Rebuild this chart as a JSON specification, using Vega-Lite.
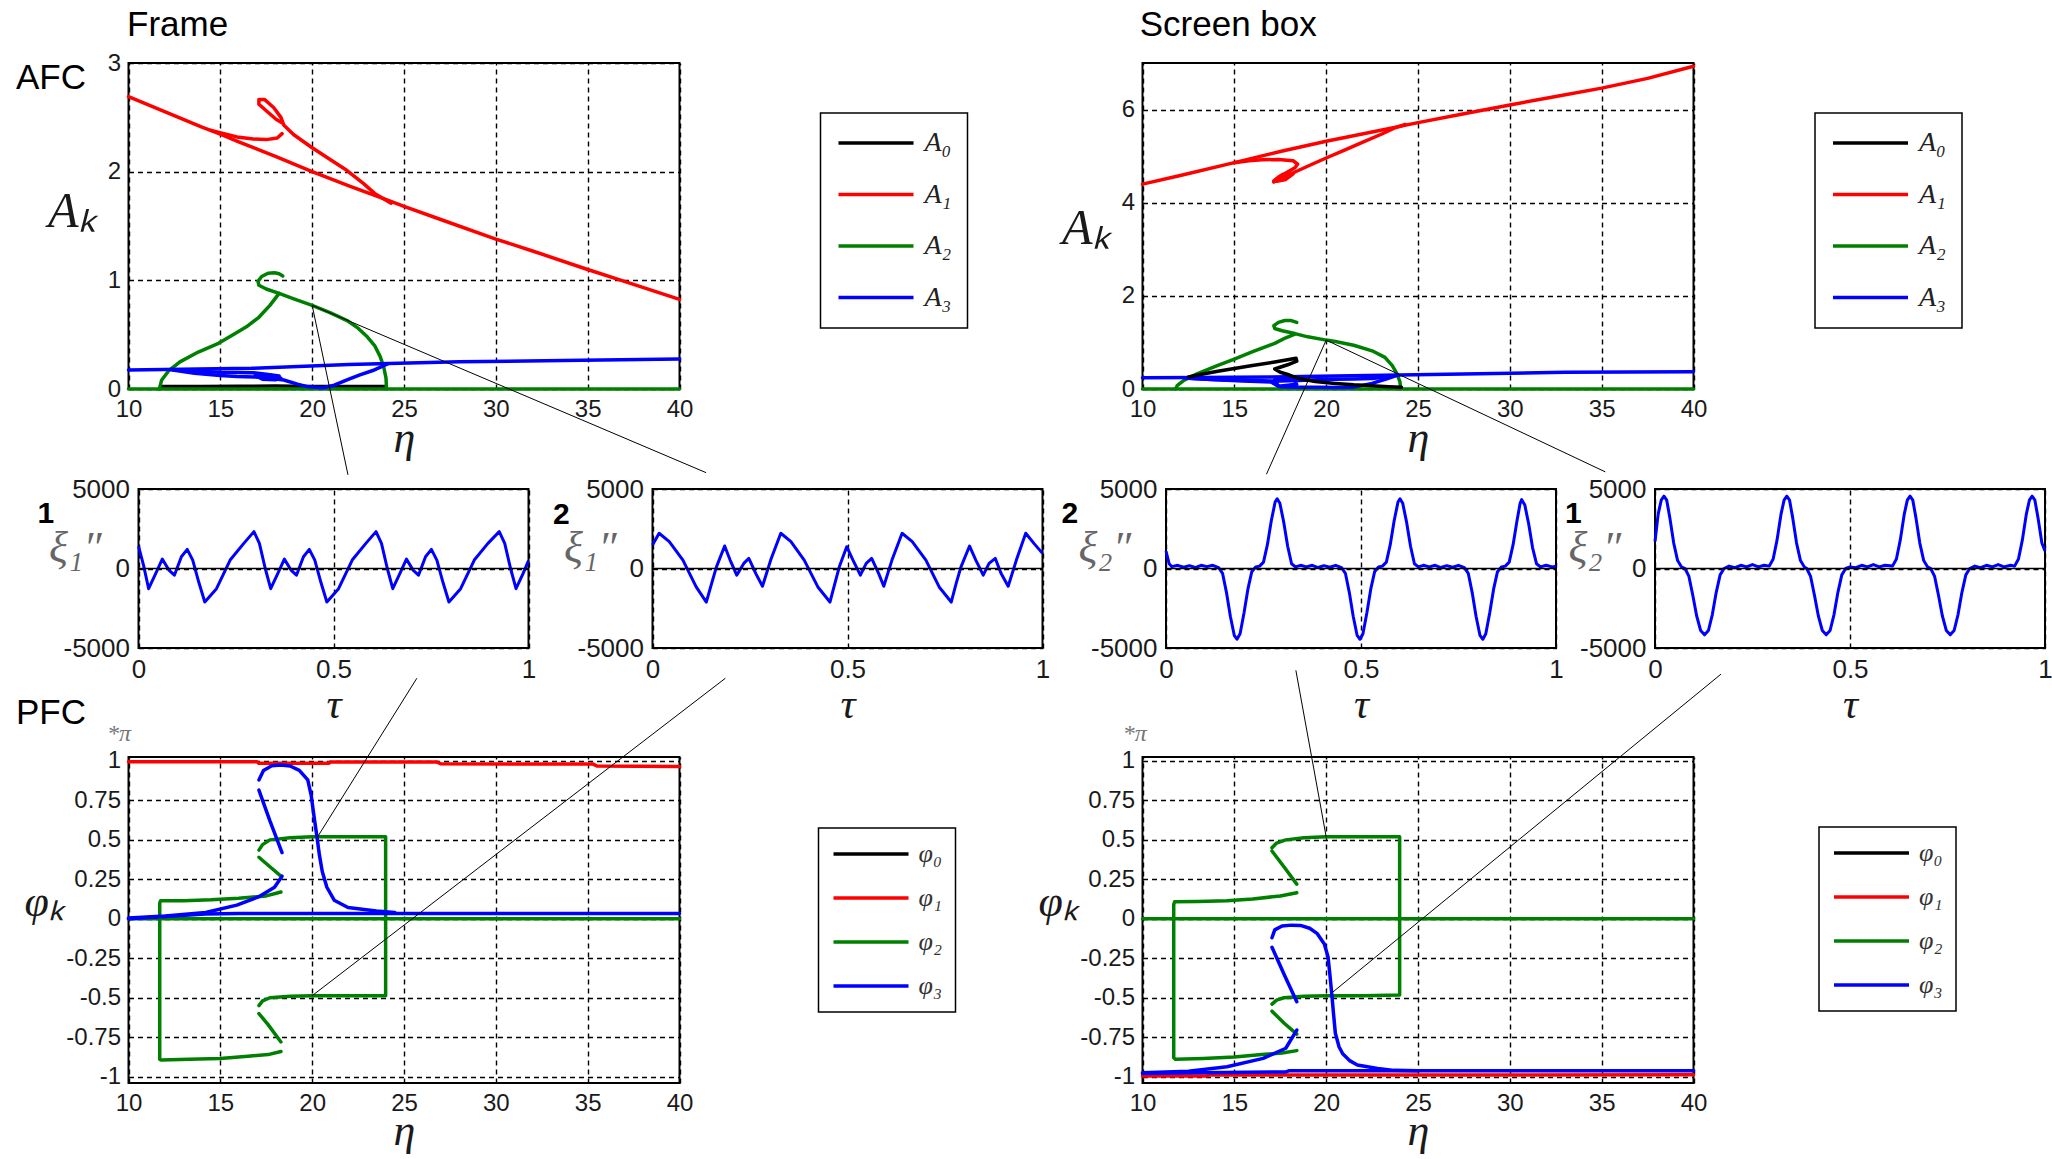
{
  "$schema": "https://vega.github.io/schema/vega-lite/v6.json",
  "width": 2052,
  "height": 1159,
  "autosize": {"type": "none"},
  "padding": 0,
  "background": "white",
  "config": {
    "font": "Liberation Sans",
    "view": {"stroke": null},
    "axis": {
      "grid": true, "gridColor": "black", "gridDash": [5, 4], "gridWidth": 1.4, "gridOpacity": 1,
      "domain": false, "ticks": false,
      "labelFont": "Liberation Sans", "labelFontSize": 24, "labelColor": "#1a1a1a", "labelPadding": 8,
      "labelFlush": false, "labelOverlap": false,
      "titleFont": "Liberation Serif", "titleFontStyle": "italic", "titleFontWeight": "normal",
      "titleColor": "#1a1a1a", "titleAngle": 0, "titleBaseline": "alphabetic"
    },
    "legend": {"strokeWidth": 1.5}
  },
  "resolve": {
    "scale": {"x": "independent", "y": "independent", "color": "independent"},
    "axis": {"x": "independent", "y": "independent"},
    "legend": {"color": "independent"}
  },
  "datasets": {
    "afcFrame": [
      {"s":"A₀","g":"k1","x":11.8,"y":0.022},{"s":"A₀","g":"k1","x":14,"y":0.022},{"s":"A₀","g":"k1","x":16,"y":0.025},{"s":"A₀","g":"k1","x":18,"y":0.027},{"s":"A₀","g":"k1","x":20,"y":0.022},{"s":"A₀","g":"k1","x":22,"y":0.022},{"s":"A₀","g":"k1","x":24,"y":0.022},
      {"s":"A₁","g":"r1","x":10,"y":2.69},{"s":"A₁","g":"r1","x":12,"y":2.55},{"s":"A₁","g":"r1","x":14,"y":2.41},{"s":"A₁","g":"r1","x":15,"y":2.345},{"s":"A₁","g":"r1","x":16,"y":2.275},{"s":"A₁","g":"r1","x":18,"y":2.14},{"s":"A₁","g":"r1","x":20,"y":2.0},{"s":"A₁","g":"r1","x":22,"y":1.87},{"s":"A₁","g":"r1","x":24,"y":1.745},{"s":"A₁","g":"r1","x":25,"y":1.68},{"s":"A₁","g":"r1","x":27,"y":1.56},{"s":"A₁","g":"r1","x":30,"y":1.38},{"s":"A₁","g":"r1","x":32,"y":1.27},{"s":"A₁","g":"r1","x":35,"y":1.1},{"s":"A₁","g":"r1","x":37,"y":0.99},{"s":"A₁","g":"r1","x":40,"y":0.825},
      {"s":"A₁","g":"r2","x":14.5,"y":2.38},{"s":"A₁","g":"r2","x":15.9,"y":2.32},{"s":"A₁","g":"r2","x":16.8,"y":2.3},{"s":"A₁","g":"r2","x":17.5,"y":2.295},{"s":"A₁","g":"r2","x":18.1,"y":2.31},{"s":"A₁","g":"r2","x":18.36,"y":2.35},
      {"s":"A₁","g":"r3","x":24.3,"y":1.71},{"s":"A₁","g":"r3","x":23.7,"y":1.77},{"s":"A₁","g":"r3","x":23.4,"y":1.8},{"s":"A₁","g":"r3","x":22.8,"y":1.89},{"s":"A₁","g":"r3","x":21.9,"y":2.01},{"s":"A₁","g":"r3","x":21,"y":2.11},{"s":"A₁","g":"r3","x":20,"y":2.22},{"s":"A₁","g":"r3","x":19,"y":2.34},{"s":"A₁","g":"r3","x":18.45,"y":2.43},{"s":"A₁","g":"r3","x":18.3,"y":2.5},{"s":"A₁","g":"r3","x":17.9,"y":2.59},{"s":"A₁","g":"r3","x":17.4,"y":2.665},{"s":"A₁","g":"r3","x":17.1,"y":2.665},{"s":"A₁","g":"r3","x":17.1,"y":2.62},{"s":"A₁","g":"r3","x":17.5,"y":2.56},{"s":"A₁","g":"r3","x":18.05,"y":2.48},{"s":"A₁","g":"r3","x":18.4,"y":2.445},
      {"s":"A₂","g":"g1","x":10,"y":0},{"s":"A₂","g":"g1","x":40,"y":0},
      {"s":"A₂","g":"g2","x":11.68,"y":0},{"s":"A₂","g":"g2","x":11.8,"y":0.08},{"s":"A₂","g":"g2","x":12.2,"y":0.17},{"s":"A₂","g":"g2","x":12.8,"y":0.25},{"s":"A₂","g":"g2","x":13.8,"y":0.34},{"s":"A₂","g":"g2","x":14.9,"y":0.42},{"s":"A₂","g":"g2","x":15.6,"y":0.49},{"s":"A₂","g":"g2","x":16.4,"y":0.57},{"s":"A₂","g":"g2","x":17.1,"y":0.66},{"s":"A₂","g":"g2","x":17.7,"y":0.77},{"s":"A₂","g":"g2","x":18.2,"y":0.88},
      {"s":"A₂","g":"g3","x":24.05,"y":0},{"s":"A₂","g":"g3","x":24.02,"y":0.1},{"s":"A₂","g":"g3","x":23.9,"y":0.2},{"s":"A₂","g":"g3","x":23.7,"y":0.3},{"s":"A₂","g":"g3","x":23.4,"y":0.4},{"s":"A₂","g":"g3","x":23,"y":0.48},{"s":"A₂","g":"g3","x":22.5,"y":0.56},{"s":"A₂","g":"g3","x":21.9,"y":0.63},{"s":"A₂","g":"g3","x":21,"y":0.7},{"s":"A₂","g":"g3","x":20,"y":0.77},{"s":"A₂","g":"g3","x":19,"y":0.83},{"s":"A₂","g":"g3","x":18.2,"y":0.88},{"s":"A₂","g":"g3","x":17.5,"y":0.92},{"s":"A₂","g":"g3","x":17.1,"y":0.955},{"s":"A₂","g":"g3","x":17.05,"y":0.99},{"s":"A₂","g":"g3","x":17.25,"y":1.035},{"s":"A₂","g":"g3","x":17.6,"y":1.065},{"s":"A₂","g":"g3","x":17.95,"y":1.07},{"s":"A₂","g":"g3","x":18.2,"y":1.06},{"s":"A₂","g":"g3","x":18.4,"y":1.04},
      {"s":"A₃","g":"b1","x":10,"y":0.175},{"s":"A₃","g":"b1","x":16.7,"y":0.19},{"s":"A₃","g":"b1","x":22,"y":0.225},{"s":"A₃","g":"b1","x":28,"y":0.25},{"s":"A₃","g":"b1","x":34.7,"y":0.265},{"s":"A₃","g":"b1","x":40,"y":0.275},
      {"s":"A₃","g":"b2","x":12.3,"y":0.18},{"s":"A₃","g":"b2","x":13.5,"y":0.165},{"s":"A₃","g":"b2","x":15,"y":0.155},{"s":"A₃","g":"b2","x":16.8,"y":0.15},{"s":"A₃","g":"b2","x":17.5,"y":0.135},{"s":"A₃","g":"b2","x":18.2,"y":0.12},
      {"s":"A₃","g":"b3","x":12.4,"y":0.175},{"s":"A₃","g":"b3","x":13.6,"y":0.145},{"s":"A₃","g":"b3","x":15,"y":0.125},{"s":"A₃","g":"b3","x":15.9,"y":0.115},{"s":"A₃","g":"b3","x":16.9,"y":0.11},{"s":"A₃","g":"b3","x":17.6,"y":0.1},{"s":"A₃","g":"b3","x":18.45,"y":0.083},{"s":"A₃","g":"b3","x":19.2,"y":0.045},{"s":"A₃","g":"b3","x":19.8,"y":0.02},{"s":"A₃","g":"b3","x":20.6,"y":0.012},{"s":"A₃","g":"b3","x":21.2,"y":0.035},{"s":"A₃","g":"b3","x":22,"y":0.09},{"s":"A₃","g":"b3","x":22.6,"y":0.13},{"s":"A₃","g":"b3","x":23.3,"y":0.17},{"s":"A₃","g":"b3","x":23.9,"y":0.215},{"s":"A₃","g":"b3","x":24.1,"y":0.23},
      {"s":"A₃","g":"b4","x":16.9,"y":0.125},{"s":"A₃","g":"b4","x":17.3,"y":0.09},{"s":"A₃","g":"b4","x":18,"y":0.085},{"s":"A₃","g":"b4","x":18.3,"y":0.1},{"s":"A₃","g":"b4","x":17.8,"y":0.125},{"s":"A₃","g":"b4","x":17.1,"y":0.13}
    ],
    "afcScreen": [
      {"s":"A₁","g":"r1","x":10,"y":4.4},{"s":"A₁","g":"r1","x":12,"y":4.58},{"s":"A₁","g":"r1","x":15,"y":4.86},{"s":"A₁","g":"r1","x":17.5,"y":5.1},{"s":"A₁","g":"r1","x":20,"y":5.32},{"s":"A₁","g":"r1","x":22.5,"y":5.52},{"s":"A₁","g":"r1","x":25,"y":5.72},{"s":"A₁","g":"r1","x":27.5,"y":5.91},{"s":"A₁","g":"r1","x":30,"y":6.1},{"s":"A₁","g":"r1","x":32.5,"y":6.28},{"s":"A₁","g":"r1","x":35,"y":6.46},{"s":"A₁","g":"r1","x":37.5,"y":6.67},{"s":"A₁","g":"r1","x":40,"y":6.93},
      {"s":"A₁","g":"r2","x":15,"y":4.86},{"s":"A₁","g":"r2","x":15.8,"y":4.9},{"s":"A₁","g":"r2","x":16.5,"y":4.92},{"s":"A₁","g":"r2","x":17.4,"y":4.93},{"s":"A₁","g":"r2","x":18.2,"y":4.9},{"s":"A₁","g":"r2","x":18.45,"y":4.83},{"s":"A₁","g":"r2","x":18.3,"y":4.75},{"s":"A₁","g":"r2","x":17.9,"y":4.66},{"s":"A₁","g":"r2","x":17.4,"y":4.55},{"s":"A₁","g":"r2","x":17.15,"y":4.47},
      {"s":"A₁","g":"r3","x":17.15,"y":4.45},{"s":"A₁","g":"r3","x":17.6,"y":4.52},{"s":"A₁","g":"r3","x":18.3,"y":4.66},{"s":"A₁","g":"r3","x":19.2,"y":4.82},{"s":"A₁","g":"r3","x":20,"y":4.96},{"s":"A₁","g":"r3","x":21,"y":5.13},{"s":"A₁","g":"r3","x":22,"y":5.3},{"s":"A₁","g":"r3","x":23,"y":5.47},{"s":"A₁","g":"r3","x":23.7,"y":5.6},{"s":"A₁","g":"r3","x":24.3,"y":5.68},
      {"s":"A₁","g":"r4","x":17.15,"y":4.45},{"s":"A₁","g":"r4","x":17.6,"y":4.6},{"s":"A₁","g":"r4","x":18.2,"y":4.62},{"s":"A₁","g":"r4","x":17.8,"y":4.5},{"s":"A₁","g":"r4","x":17.3,"y":4.46},
      {"s":"A₂","g":"g1","x":10,"y":0},{"s":"A₂","g":"g1","x":40,"y":0},
      {"s":"A₂","g":"g2","x":11.8,"y":0},{"s":"A₂","g":"g2","x":11.9,"y":0.08},{"s":"A₂","g":"g2","x":12.27,"y":0.19},{"s":"A₂","g":"g2","x":13,"y":0.33},{"s":"A₂","g":"g2","x":14,"y":0.49},{"s":"A₂","g":"g2","x":15,"y":0.64},{"s":"A₂","g":"g2","x":16,"y":0.8},{"s":"A₂","g":"g2","x":17.2,"y":0.98},{"s":"A₂","g":"g2","x":17.8,"y":1.1},{"s":"A₂","g":"g2","x":18.3,"y":1.18},
      {"s":"A₂","g":"g3","x":24.05,"y":0},{"s":"A₂","g":"g3","x":24.02,"y":0.15},{"s":"A₂","g":"g3","x":23.85,"y":0.33},{"s":"A₂","g":"g3","x":23.6,"y":0.5},{"s":"A₂","g":"g3","x":23.2,"y":0.68},{"s":"A₂","g":"g3","x":22.5,"y":0.82},{"s":"A₂","g":"g3","x":21.5,"y":0.94},{"s":"A₂","g":"g3","x":20.5,"y":1.02},{"s":"A₂","g":"g3","x":20,"y":1.05},{"s":"A₂","g":"g3","x":19,"y":1.12},{"s":"A₂","g":"g3","x":18.3,"y":1.19},{"s":"A₂","g":"g3","x":17.6,"y":1.25},{"s":"A₂","g":"g3","x":17.2,"y":1.3},{"s":"A₂","g":"g3","x":17.15,"y":1.36},{"s":"A₂","g":"g3","x":17.4,"y":1.43},{"s":"A₂","g":"g3","x":17.75,"y":1.47},{"s":"A₂","g":"g3","x":18.1,"y":1.47},{"s":"A₂","g":"g3","x":18.4,"y":1.43},
      {"s":"A₃","g":"b1","x":10,"y":0.24},{"s":"A₃","g":"b1","x":13,"y":0.245},{"s":"A₃","g":"b1","x":17,"y":0.26},{"s":"A₃","g":"b1","x":24,"y":0.3},{"s":"A₃","g":"b1","x":33,"y":0.36},{"s":"A₃","g":"b1","x":40,"y":0.37},
      {"s":"A₃","g":"b2","x":12.3,"y":0.235},{"s":"A₃","g":"b2","x":13.5,"y":0.21},{"s":"A₃","g":"b2","x":15,"y":0.19},{"s":"A₃","g":"b2","x":16.5,"y":0.175},{"s":"A₃","g":"b2","x":17.5,"y":0.17},{"s":"A₃","g":"b2","x":18.5,"y":0.18},{"s":"A₃","g":"b2","x":19.5,"y":0.2},{"s":"A₃","g":"b2","x":20.5,"y":0.21},{"s":"A₃","g":"b2","x":21.5,"y":0.215},{"s":"A₃","g":"b2","x":22.5,"y":0.225},{"s":"A₃","g":"b2","x":23.5,"y":0.27},{"s":"A₃","g":"b2","x":23.9,"y":0.3},
      {"s":"A₃","g":"b3","x":12.5,"y":0.23},{"s":"A₃","g":"b3","x":14,"y":0.2},{"s":"A₃","g":"b3","x":15.5,"y":0.17},{"s":"A₃","g":"b3","x":17,"y":0.15},{"s":"A₃","g":"b3","x":17.3,"y":0.08},{"s":"A₃","g":"b3","x":17.5,"y":0.05},{"s":"A₃","g":"b3","x":18.3,"y":0.04},{"s":"A₃","g":"b3","x":19.5,"y":0.035},{"s":"A₃","g":"b3","x":20.5,"y":0.03},{"s":"A₃","g":"b3","x":21.5,"y":0.04},{"s":"A₃","g":"b3","x":22.5,"y":0.12},{"s":"A₃","g":"b3","x":23.3,"y":0.22},{"s":"A₃","g":"b3","x":23.9,"y":0.3},
      {"s":"A₃","g":"b4","x":17.2,"y":0.2},{"s":"A₃","g":"b4","x":18.2,"y":0.22},{"s":"A₃","g":"b4","x":18.4,"y":0.1},{"s":"A₃","g":"b4","x":17.4,"y":0.06},{"s":"A₃","g":"b4","x":17.2,"y":0.2},
      {"s":"A₀","g":"k1","x":12.5,"y":0.26},{"s":"A₀","g":"k1","x":13,"y":0.3},{"s":"A₀","g":"k1","x":14.1,"y":0.38},{"s":"A₀","g":"k1","x":15.9,"y":0.5},{"s":"A₀","g":"k1","x":17.2,"y":0.58},{"s":"A₀","g":"k1","x":18.36,"y":0.66},{"s":"A₀","g":"k1","x":18.4,"y":0.6},{"s":"A₀","g":"k1","x":17.9,"y":0.52},{"s":"A₀","g":"k1","x":17.2,"y":0.43},{"s":"A₀","g":"k1","x":17.5,"y":0.36},{"s":"A₀","g":"k1","x":18,"y":0.3},{"s":"A₀","g":"k1","x":18.46,"y":0.23},{"s":"A₀","g":"k1","x":19.4,"y":0.16},{"s":"A₀","g":"k1","x":20.5,"y":0.12},{"s":"A₀","g":"k1","x":21.5,"y":0.09},{"s":"A₀","g":"k1","x":22.5,"y":0.07},{"s":"A₀","g":"k1","x":23.4,"y":0.05},{"s":"A₀","g":"k1","x":24.1,"y":0.04}
    ],
    "pfcFrame": [
      {"s":"φ₁","g":"r1","x":10,"y":0.995},{"s":"φ₁","g":"r1","x":17,"y":0.995},{"s":"φ₁","g":"r1","x":17.1,"y":0.985},{"s":"φ₁","g":"r1","x":20.9,"y":0.985},{"s":"φ₁","g":"r1","x":21,"y":0.993},{"s":"φ₁","g":"r1","x":26.8,"y":0.993},{"s":"φ₁","g":"r1","x":27,"y":0.982},{"s":"φ₁","g":"r1","x":35.3,"y":0.98},{"s":"φ₁","g":"r1","x":35.5,"y":0.968},{"s":"φ₁","g":"r1","x":40,"y":0.965},
      {"s":"φ₂","g":"g1","x":10,"y":0},{"s":"φ₂","g":"g1","x":40,"y":0},
      {"s":"φ₂","g":"g2","x":18.3,"y":0.17},{"s":"φ₂","g":"g2","x":17.5,"y":0.145},{"s":"φ₂","g":"g2","x":16,"y":0.13},{"s":"φ₂","g":"g2","x":14.5,"y":0.12},{"s":"φ₂","g":"g2","x":13,"y":0.115},{"s":"φ₂","g":"g2","x":11.75,"y":0.115},{"s":"φ₂","g":"g2","x":11.7,"y":0.1},{"s":"φ₂","g":"g2","x":11.7,"y":-0.89},{"s":"φ₂","g":"g2","x":11.8,"y":-0.895},{"s":"φ₂","g":"g2","x":13.3,"y":-0.89},{"s":"φ₂","g":"g2","x":15,"y":-0.885},{"s":"φ₂","g":"g2","x":16.5,"y":-0.87},{"s":"φ₂","g":"g2","x":17.6,"y":-0.86},{"s":"φ₂","g":"g2","x":18.3,"y":-0.84},
      {"s":"φ₂","g":"g3","x":18.3,"y":0.27},{"s":"φ₂","g":"g3","x":17.7,"y":0.33},{"s":"φ₂","g":"g3","x":17.1,"y":0.39},
      {"s":"φ₂","g":"g4","x":17.1,"y":0.435},{"s":"φ₂","g":"g4","x":17.3,"y":0.47},{"s":"φ₂","g":"g4","x":17.7,"y":0.5},{"s":"φ₂","g":"g4","x":18.8,"y":0.513},{"s":"φ₂","g":"g4","x":20,"y":0.52},{"s":"φ₂","g":"g4","x":22,"y":0.52},{"s":"φ₂","g":"g4","x":24,"y":0.52},{"s":"φ₂","g":"g4","x":24,"y":-0.487},{"s":"φ₂","g":"g4","x":22,"y":-0.487},{"s":"φ₂","g":"g4","x":20,"y":-0.487},{"s":"φ₂","g":"g4","x":18.8,"y":-0.49},{"s":"φ₂","g":"g4","x":17.7,"y":-0.5},{"s":"φ₂","g":"g4","x":17.3,"y":-0.52},{"s":"φ₂","g":"g4","x":17.1,"y":-0.55},
      {"s":"φ₂","g":"g5","x":17.1,"y":-0.6},{"s":"φ₂","g":"g5","x":17.6,"y":-0.67},{"s":"φ₂","g":"g5","x":18.3,"y":-0.78},
      {"s":"φ₃","g":"b1","x":10,"y":0},{"s":"φ₃","g":"b1","x":12,"y":0.015},{"s":"φ₃","g":"b1","x":14.2,"y":0.03},{"s":"φ₃","g":"b1","x":16,"y":0.034},{"s":"φ₃","g":"b1","x":40,"y":0.034},
      {"s":"φ₃","g":"b2","x":10,"y":0.005},{"s":"φ₃","g":"b2","x":12,"y":0.018},{"s":"φ₃","g":"b2","x":14.2,"y":0.04},{"s":"φ₃","g":"b2","x":15.9,"y":0.087},{"s":"φ₃","g":"b2","x":17.1,"y":0.14},{"s":"φ₃","g":"b2","x":17.95,"y":0.2},{"s":"φ₃","g":"b2","x":18.36,"y":0.27},
      {"s":"φ₃","g":"b3","x":18.36,"y":0.42},{"s":"φ₃","g":"b3","x":17.7,"y":0.62},{"s":"φ₃","g":"b3","x":17.1,"y":0.815},
      {"s":"φ₃","g":"b4","x":17.1,"y":0.88},{"s":"φ₃","g":"b4","x":17.35,"y":0.94},{"s":"φ₃","g":"b4","x":17.8,"y":0.97},{"s":"φ₃","g":"b4","x":18.3,"y":0.975},{"s":"φ₃","g":"b4","x":18.8,"y":0.968},{"s":"φ₃","g":"b4","x":19.3,"y":0.94},{"s":"φ₃","g":"b4","x":19.76,"y":0.88},{"s":"φ₃","g":"b4","x":19.95,"y":0.78},{"s":"φ₃","g":"b4","x":20.1,"y":0.65},{"s":"φ₃","g":"b4","x":20.26,"y":0.52},{"s":"φ₃","g":"b4","x":20.4,"y":0.4},{"s":"φ₃","g":"b4","x":20.55,"y":0.3},{"s":"φ₃","g":"b4","x":20.8,"y":0.2},{"s":"φ₃","g":"b4","x":21.2,"y":0.118},{"s":"φ₃","g":"b4","x":21.95,"y":0.072},{"s":"φ₃","g":"b4","x":23.5,"y":0.05},{"s":"φ₃","g":"b4","x":24.5,"y":0.04}
    ],
    "pfcScreen": [
      {"s":"φ₁","g":"r1","x":10,"y":-0.995},{"s":"φ₁","g":"r1","x":13.5,"y":-0.995},{"s":"φ₁","g":"r1","x":13.6,"y":-0.99},{"s":"φ₁","g":"r1","x":40,"y":-0.988},
      {"s":"φ₂","g":"g1","x":10,"y":0},{"s":"φ₂","g":"g1","x":40,"y":0},
      {"s":"φ₂","g":"g2","x":18.4,"y":0.165},{"s":"φ₂","g":"g2","x":17.5,"y":0.145},{"s":"φ₂","g":"g2","x":16,"y":0.125},{"s":"φ₂","g":"g2","x":14.6,"y":0.114},{"s":"φ₂","g":"g2","x":13,"y":0.11},{"s":"φ₂","g":"g2","x":11.75,"y":0.108},{"s":"φ₂","g":"g2","x":11.7,"y":0.09},{"s":"φ₂","g":"g2","x":11.7,"y":-0.88},{"s":"φ₂","g":"g2","x":11.8,"y":-0.89},{"s":"φ₂","g":"g2","x":13.3,"y":-0.885},{"s":"φ₂","g":"g2","x":15,"y":-0.875},{"s":"φ₂","g":"g2","x":16.5,"y":-0.86},{"s":"φ₂","g":"g2","x":17.6,"y":-0.85},{"s":"φ₂","g":"g2","x":18.4,"y":-0.835},
      {"s":"φ₂","g":"g3","x":18.4,"y":0.22},{"s":"φ₂","g":"g3","x":17.7,"y":0.33},{"s":"φ₂","g":"g3","x":17.05,"y":0.43},
      {"s":"φ₂","g":"g4","x":17.05,"y":0.45},{"s":"φ₂","g":"g4","x":17.3,"y":0.48},{"s":"φ₂","g":"g4","x":17.8,"y":0.5},{"s":"φ₂","g":"g4","x":18.8,"y":0.513},{"s":"φ₂","g":"g4","x":20,"y":0.52},{"s":"φ₂","g":"g4","x":22,"y":0.52},{"s":"φ₂","g":"g4","x":24,"y":0.52},{"s":"φ₂","g":"g4","x":24,"y":-0.483},{"s":"φ₂","g":"g4","x":22,"y":-0.487},{"s":"φ₂","g":"g4","x":20,"y":-0.487},{"s":"φ₂","g":"g4","x":18.8,"y":-0.49},{"s":"φ₂","g":"g4","x":17.7,"y":-0.5},{"s":"φ₂","g":"g4","x":17.3,"y":-0.515},{"s":"φ₂","g":"g4","x":17.05,"y":-0.54},
      {"s":"φ₂","g":"g5","x":17.05,"y":-0.585},{"s":"φ₂","g":"g5","x":17.7,"y":-0.66},{"s":"φ₂","g":"g5","x":18.4,"y":-0.73},
      {"s":"φ₃","g":"b1","x":10,"y":-0.98},{"s":"φ₃","g":"b1","x":13,"y":-0.975},{"s":"φ₃","g":"b1","x":17.8,"y":-0.97},{"s":"φ₃","g":"b1","x":18,"y":-0.962},{"s":"φ₃","g":"b1","x":40,"y":-0.962},
      {"s":"φ₃","g":"b2","x":10,"y":-0.975},{"s":"φ₃","g":"b2","x":12.5,"y":-0.965},{"s":"φ₃","g":"b2","x":14.6,"y":-0.937},{"s":"φ₃","g":"b2","x":16.57,"y":-0.884},{"s":"φ₃","g":"b2","x":17.8,"y":-0.82},{"s":"φ₃","g":"b2","x":18.4,"y":-0.705},
      {"s":"φ₃","g":"b3","x":17.05,"y":-0.18},{"s":"φ₃","g":"b3","x":17.7,"y":-0.35},{"s":"φ₃","g":"b3","x":18.4,"y":-0.525},
      {"s":"φ₃","g":"b4","x":17.05,"y":-0.12},{"s":"φ₃","g":"b4","x":17.2,"y":-0.07},{"s":"φ₃","g":"b4","x":17.6,"y":-0.045},{"s":"φ₃","g":"b4","x":18.1,"y":-0.04},{"s":"φ₃","g":"b4","x":18.6,"y":-0.042},{"s":"φ₃","g":"b4","x":19.1,"y":-0.06},{"s":"φ₃","g":"b4","x":19.5,"y":-0.092},{"s":"φ₃","g":"b4","x":19.9,"y":-0.16},{"s":"φ₃","g":"b4","x":20.1,"y":-0.24},{"s":"φ₃","g":"b4","x":20.2,"y":-0.35},{"s":"φ₃","g":"b4","x":20.3,"y":-0.47},{"s":"φ₃","g":"b4","x":20.4,"y":-0.6},{"s":"φ₃","g":"b4","x":20.5,"y":-0.725},{"s":"φ₃","g":"b4","x":20.7,"y":-0.81},{"s":"φ₃","g":"b4","x":20.9,"y":-0.855},{"s":"φ₃","g":"b4","x":21.3,"y":-0.9},{"s":"φ₃","g":"b4","x":21.7,"y":-0.926},{"s":"φ₃","g":"b4","x":22.8,"y":-0.948},{"s":"φ₃","g":"b4","x":23.7,"y":-0.96},{"s":"φ₃","g":"b4","x":25,"y":-0.962}
    ],
    "xiA": [
      {"t":0,"v":1400},{"t":0.013,"v":200},{"t":0.026,"v":-1270},{"t":0.044,"v":-320},{"t":0.061,"v":590},{"t":0.078,"v":-100},{"t":0.092,"v":-420},{"t":0.11,"v":740},{"t":0.125,"v":1200},{"t":0.139,"v":530},{"t":0.155,"v":-900},{"t":0.17,"v":-2110},{"t":0.2,"v":-1270},{"t":0.235,"v":530},{"t":0.27,"v":1580},{"t":0.296,"v":2320},
      {"t":0.31,"v":1580},{"t":0.325,"v":0},{"t":0.339,"v":-1270},{"t":0.357,"v":-320},{"t":0.374,"v":590},{"t":0.391,"v":-100},{"t":0.405,"v":-420},{"t":0.423,"v":740},{"t":0.438,"v":1200},{"t":0.452,"v":530},{"t":0.468,"v":-900},{"t":0.483,"v":-2110},{"t":0.513,"v":-1270},{"t":0.548,"v":530},{"t":0.583,"v":1580},{"t":0.609,"v":2320},
      {"t":0.623,"v":1580},{"t":0.638,"v":0},{"t":0.652,"v":-1270},{"t":0.67,"v":-320},{"t":0.687,"v":590},{"t":0.704,"v":-100},{"t":0.718,"v":-420},{"t":0.736,"v":740},{"t":0.751,"v":1200},{"t":0.765,"v":530},{"t":0.781,"v":-900},{"t":0.796,"v":-2110},{"t":0.826,"v":-1270},{"t":0.861,"v":530},{"t":0.896,"v":1580},{"t":0.925,"v":2320},
      {"t":0.939,"v":1580},{"t":0.954,"v":0},{"t":0.968,"v":-1270},{"t":0.986,"v":-320},{"t":1,"v":500}
    ],
    "xiB": [
      {"t":0,"v":1480},{"t":0.017,"v":2215},{"t":0.043,"v":1690},{"t":0.078,"v":530},{"t":0.112,"v":-1160},{"t":0.138,"v":-2110},{"t":0.152,"v":-900},{"t":0.164,"v":105},{"t":0.185,"v":1414},{"t":0.199,"v":530},{"t":0.216,"v":-420},{"t":0.234,"v":320},{"t":0.247,"v":633},{"t":0.265,"v":-320},{"t":0.282,"v":-1118},{"t":0.303,"v":530},
      {"t":0.329,"v":2215},{"t":0.355,"v":1690},{"t":0.389,"v":530},{"t":0.424,"v":-1160},{"t":0.455,"v":-2110},{"t":0.468,"v":-900},{"t":0.479,"v":105},{"t":0.498,"v":1370},{"t":0.514,"v":530},{"t":0.533,"v":-420},{"t":0.548,"v":320},{"t":0.562,"v":633},{"t":0.58,"v":-320},{"t":0.593,"v":-1118},{"t":0.614,"v":530},
      {"t":0.64,"v":2215},{"t":0.666,"v":1690},{"t":0.701,"v":530},{"t":0.735,"v":-1160},{"t":0.766,"v":-2110},{"t":0.779,"v":-900},{"t":0.791,"v":105},{"t":0.813,"v":1414},{"t":0.829,"v":530},{"t":0.848,"v":-420},{"t":0.863,"v":320},{"t":0.879,"v":633},{"t":0.894,"v":-320},{"t":0.912,"v":-1118},{"t":0.933,"v":530},
      {"t":0.957,"v":2215},{"t":0.978,"v":1580},{"t":1,"v":950}
    ],
    "xiC": [
      {"t":0,"v":1100},{"t":0.008,"v":300},{"t":0.015,"v":120},{"t":0.03,"v":200},{"t":0.045,"v":80},{"t":0.06,"v":180},{"t":0.075,"v":60},{"t":0.09,"v":200},{"t":0.105,"v":120},{"t":0.12,"v":200},{"t":0.135,"v":50},
      {"t":0.145,"v":-300},{"t":0.155,"v":-1500},{"t":0.165,"v":-3000},{"t":0.175,"v":-4200},{"t":0.182,"v":-4450},{"t":0.19,"v":-4100},{"t":0.2,"v":-2800},{"t":0.21,"v":-1300},{"t":0.22,"v":-200},{"t":0.23,"v":100},{"t":0.24,"v":150},
      {"t":0.25,"v":400},{"t":0.26,"v":1500},{"t":0.27,"v":3000},{"t":0.28,"v":4200},{"t":0.285,"v":4380},{"t":0.292,"v":4100},{"t":0.302,"v":2900},{"t":0.312,"v":1400},{"t":0.322,"v":300},{"t":0.332,"v":100},
      {"t":0.345,"v":200},{"t":0.36,"v":100},{"t":0.375,"v":200},{"t":0.39,"v":60},{"t":0.405,"v":180},{"t":0.42,"v":80},{"t":0.435,"v":200},{"t":0.45,"v":50},
      {"t":0.46,"v":-300},{"t":0.47,"v":-1500},{"t":0.48,"v":-3000},{"t":0.49,"v":-4200},{"t":0.4975,"v":-4450},{"t":0.505,"v":-4100},{"t":0.515,"v":-2800},{"t":0.525,"v":-1300},{"t":0.535,"v":-200},{"t":0.545,"v":100},{"t":0.555,"v":150},
      {"t":0.565,"v":400},{"t":0.575,"v":1500},{"t":0.585,"v":3000},{"t":0.595,"v":4200},{"t":0.6,"v":4380},{"t":0.607,"v":4100},{"t":0.617,"v":2900},{"t":0.627,"v":1400},{"t":0.637,"v":300},{"t":0.647,"v":100},
      {"t":0.66,"v":200},{"t":0.675,"v":100},{"t":0.69,"v":200},{"t":0.705,"v":60},{"t":0.72,"v":180},{"t":0.735,"v":80},{"t":0.75,"v":200},{"t":0.765,"v":50},
      {"t":0.775,"v":-300},{"t":0.785,"v":-1500},{"t":0.795,"v":-3000},{"t":0.805,"v":-4200},{"t":0.8125,"v":-4450},{"t":0.82,"v":-4100},{"t":0.83,"v":-2800},{"t":0.84,"v":-1300},{"t":0.85,"v":-200},{"t":0.86,"v":100},{"t":0.87,"v":150},
      {"t":0.88,"v":400},{"t":0.89,"v":1500},{"t":0.9,"v":3000},{"t":0.908,"v":4100},{"t":0.912,"v":4330},{"t":0.92,"v":4000},{"t":0.93,"v":2800},{"t":0.94,"v":1300},{"t":0.95,"v":300},{"t":0.96,"v":100},{"t":0.975,"v":200},{"t":0.99,"v":100},{"t":1,"v":150}
    ],
    "xiD": [
      {"t":0,"v":1700},{"t":0.008,"v":3400},{"t":0.016,"v":4300},{"t":0.023,"v":4550},{"t":0.03,"v":4300},{"t":0.038,"v":3200},{"t":0.048,"v":1600},{"t":0.058,"v":500},{"t":0.068,"v":100},{"t":0.077,"v":0},
      {"t":0.087,"v":-500},{"t":0.097,"v":-1700},{"t":0.107,"v":-3000},{"t":0.117,"v":-3900},{"t":0.127,"v":-4170},{"t":0.137,"v":-3900},{"t":0.147,"v":-2900},{"t":0.157,"v":-1500},{"t":0.167,"v":-400},{"t":0.177,"v":0},
      {"t":0.19,"v":150},{"t":0.205,"v":50},{"t":0.22,"v":200},{"t":0.235,"v":100},{"t":0.25,"v":250},{"t":0.265,"v":100},{"t":0.28,"v":200},{"t":0.293,"v":150},
      {"t":0.303,"v":600},{"t":0.313,"v":1800},{"t":0.323,"v":3400},{"t":0.331,"v":4300},{"t":0.338,"v":4550},{"t":0.345,"v":4300},{"t":0.353,"v":3200},{"t":0.363,"v":1600},{"t":0.373,"v":500},{"t":0.383,"v":100},{"t":0.389,"v":0},
      {"t":0.399,"v":-500},{"t":0.409,"v":-1700},{"t":0.419,"v":-3000},{"t":0.429,"v":-3900},{"t":0.439,"v":-4170},{"t":0.449,"v":-3900},{"t":0.459,"v":-2900},{"t":0.469,"v":-1500},{"t":0.479,"v":-400},{"t":0.489,"v":0},
      {"t":0.5,"v":100},{"t":0.515,"v":50},{"t":0.53,"v":200},{"t":0.545,"v":100},{"t":0.56,"v":250},{"t":0.575,"v":100},{"t":0.59,"v":200},{"t":0.609,"v":150},
      {"t":0.619,"v":600},{"t":0.629,"v":1800},{"t":0.639,"v":3400},{"t":0.647,"v":4300},{"t":0.654,"v":4550},{"t":0.661,"v":4300},{"t":0.669,"v":3200},{"t":0.679,"v":1600},{"t":0.689,"v":500},{"t":0.699,"v":100},{"t":0.707,"v":0},
      {"t":0.717,"v":-500},{"t":0.727,"v":-1700},{"t":0.737,"v":-3000},{"t":0.747,"v":-3900},{"t":0.757,"v":-4170},{"t":0.767,"v":-3900},{"t":0.777,"v":-2900},{"t":0.787,"v":-1500},{"t":0.797,"v":-400},{"t":0.807,"v":0},
      {"t":0.82,"v":150},{"t":0.835,"v":50},{"t":0.85,"v":200},{"t":0.865,"v":100},{"t":0.88,"v":250},{"t":0.895,"v":100},{"t":0.912,"v":200},{"t":0.922,"v":150},
      {"t":0.932,"v":600},{"t":0.942,"v":1800},{"t":0.952,"v":3400},{"t":0.96,"v":4300},{"t":0.967,"v":4550},{"t":0.974,"v":4300},{"t":0.982,"v":3200},{"t":0.992,"v":1600},{"t":1,"v":1100}
    ]
  },
  "layer": [
    {
      "data": {"values": [{}]},
      "mark": {"type": "rect", "fillOpacity": 0, "stroke": "black", "strokeWidth": 2},
      "encoding": {
        "x": {"datum": 10, "type": "quantitative", "scale": {"domain": [10, 40], "range": [128.5, 679.5], "nice": false, "zero": false},
              "axis": {"orient": "top", "grid": true, "labels": false, "title": null, "values": [10, 15, 20, 25, 30, 35, 40]}},
        "x2": {"datum": 40},
        "y": {"datum": 0, "type": "quantitative", "scale": {"domain": [0, 3], "range": [389, 63], "nice": false, "zero": false}, "axis": null},
        "y2": {"datum": 3}
      }
    },
    {
      "data": {"name": "afcFrame"},
      "mark": {"type": "line", "strokeWidth": 3.5, "strokeJoin": "round", "strokeCap": "round", "clip": false},
      "encoding": {
        "x": {"field": "x", "type": "quantitative", "scale": {"domain": [10, 40], "range": [128.5, 679.5], "nice": false, "zero": false},
              "axis": {"orient": "bottom", "offset": -770, "grid": false, "values": [10, 15, 20, 25, 30, 35, 40], "labelExpr": "'' + datum.value", "title": "η", "titleFontSize": 44, "titleX": 404, "titleY": 62, "titleAlign": "center"}},
        "y": {"field": "y", "type": "quantitative", "scale": {"domain": [0, 3], "range": [389, 63], "nice": false, "zero": false},
              "axis": {"orient": "left", "offset": -128.5, "grid": true, "values": [0, 1, 2, 3], "labelExpr": "'' + datum.value", "title": "Aₖ", "titleFontSize": 50, "titleX": -81, "titleY": 226, "titleAlign": "left"}},
        "color": {"field": "s", "type": "nominal",
                  "scale": {"domain": ["A₀", "A₁", "A₂", "A₃"], "range": ["#000000", "#ff0000", "#008000", "#0000ff"]},
                  "legend": {"title": null, "orient": "none", "legendX": 820.5, "legendY": 113, "symbolType": "M-1,0H1", "symbolSize": 5625, "symbolStrokeWidth": 3.5, "labelFont": "Liberation Serif", "labelFontStyle": "italic", "labelFontSize": 28, "labelColor": "#222222", "labelOffset": 9, "labelExpr": "datum.label + '\u00a0\u00a0'", "rowPadding": 23.5, "clipHeight": 28, "padding": 16, "strokeColor": "black", "fillColor": "white"}},
        "detail": {"field": "g"},
        "order": {"value": null}
      }
    },
    {
      "data": {"values": [{"g": "a", "x": 20, "y": 0.77}, {"g": "a", "x": 21.95, "y": -0.79}, {"g": "b", "x": 20, "y": 0.77}, {"g": "b", "x": 41.45, "y": -0.77}]},
      "mark": {"type": "line", "color": "black", "strokeWidth": 1, "clip": false},
      "encoding": {
        "x": {"field": "x", "type": "quantitative", "scale": {"domain": [10, 40], "range": [128.5, 679.5], "nice": false, "zero": false}, "axis": null},
        "y": {"field": "y", "type": "quantitative", "scale": {"domain": [0, 3], "range": [389, 63], "nice": false, "zero": false}, "axis": null},
        "detail": {"field": "g"},
        "order": {"value": null}
      }
    },
    {
      "data": {"values": [{"t": "Frame", "x": 9.92, "y": 3.506}, {"t": "AFC", "x": 3.875, "y": 3.019}]},
      "mark": {"type": "text", "align": "left", "baseline": "top", "font": "Liberation Sans", "fontSize": 35, "color": "black", "clip": false},
      "encoding": {
        "x": {"field": "x", "type": "quantitative", "scale": {"domain": [10, 40], "range": [128.5, 679.5], "nice": false, "zero": false}, "axis": null},
        "y": {"field": "y", "type": "quantitative", "scale": {"domain": [0, 3], "range": [389, 63], "nice": false, "zero": false}, "axis": null},
        "text": {"field": "t"}
      }
    },

    {
      "data": {"values": [{}]},
      "mark": {"type": "rect", "fillOpacity": 0, "stroke": "black", "strokeWidth": 2},
      "encoding": {
        "x": {"datum": 10, "type": "quantitative", "scale": {"domain": [10, 40], "range": [1142.5, 1693.5], "nice": false, "zero": false},
              "axis": {"orient": "top", "grid": true, "labels": false, "title": null, "values": [10, 15, 20, 25, 30, 35, 40]}},
        "x2": {"datum": 40},
        "y": {"datum": 0, "type": "quantitative", "scale": {"domain": [0, 7], "range": [389, 63], "nice": false, "zero": false}, "axis": null},
        "y2": {"datum": 7}
      }
    },
    {
      "data": {"name": "afcScreen"},
      "mark": {"type": "line", "strokeWidth": 3.5, "strokeJoin": "round", "strokeCap": "round", "clip": false},
      "encoding": {
        "x": {"field": "x", "type": "quantitative", "scale": {"domain": [10, 40], "range": [1142.5, 1693.5], "nice": false, "zero": false},
              "axis": {"orient": "bottom", "offset": -770, "grid": false, "values": [10, 15, 20, 25, 30, 35, 40], "labelExpr": "'' + datum.value", "title": "η", "titleFontSize": 44, "titleX": 1418, "titleY": 62, "titleAlign": "center"}},
        "y": {"field": "y", "type": "quantitative", "scale": {"domain": [0, 7], "range": [389, 63], "nice": false, "zero": false},
              "axis": {"orient": "left", "offset": -1142.5, "grid": true, "values": [0, 2, 4, 6], "labelExpr": "'' + datum.value", "title": "Aₖ", "titleFontSize": 50, "titleX": -81, "titleY": 243, "titleAlign": "left"}},
        "color": {"field": "s", "type": "nominal",
                  "scale": {"domain": ["A₀", "A₁", "A₂", "A₃"], "range": ["#000000", "#ff0000", "#008000", "#0000ff"]},
                  "legend": {"title": null, "orient": "none", "legendX": 1815, "legendY": 113, "symbolType": "M-1,0H1", "symbolSize": 5625, "symbolStrokeWidth": 3.5, "labelFont": "Liberation Serif", "labelFontStyle": "italic", "labelFontSize": 28, "labelColor": "#222222", "labelOffset": 9, "labelExpr": "datum.label + '\u00a0\u00a0'", "rowPadding": 23.5, "clipHeight": 28, "padding": 16, "strokeColor": "black", "fillColor": "white"}},
        "detail": {"field": "g"},
        "order": {"value": null}
      }
    },
    {
      "data": {"values": [{"g": "a", "x": 20, "y": 1.05}, {"g": "a", "x": 16.75, "y": -1.83}, {"g": "b", "x": 20, "y": 1.05}, {"g": "b", "x": 35.2, "y": -1.78}]},
      "mark": {"type": "line", "color": "black", "strokeWidth": 1, "clip": false},
      "encoding": {
        "x": {"field": "x", "type": "quantitative", "scale": {"domain": [10, 40], "range": [1142.5, 1693.5], "nice": false, "zero": false}, "axis": null},
        "y": {"field": "y", "type": "quantitative", "scale": {"domain": [0, 7], "range": [389, 63], "nice": false, "zero": false}, "axis": null},
        "detail": {"field": "g"},
        "order": {"value": null}
      }
    },
    {
      "data": {"values": [{"t": "Screen box", "x": 9.85, "y": 8.181}]},
      "mark": {"type": "text", "align": "left", "baseline": "top", "font": "Liberation Sans", "fontSize": 35, "color": "black", "clip": false},
      "encoding": {
        "x": {"field": "x", "type": "quantitative", "scale": {"domain": [10, 40], "range": [1142.5, 1693.5], "nice": false, "zero": false}, "axis": null},
        "y": {"field": "y", "type": "quantitative", "scale": {"domain": [0, 7], "range": [389, 63], "nice": false, "zero": false}, "axis": null},
        "text": {"field": "t"}
      }
    },

    {
      "data": {"values": [{}]},
      "mark": {"type": "rect", "fillOpacity": 0, "stroke": "black", "strokeWidth": 2},
      "encoding": {
        "x": {"datum": 0, "type": "quantitative", "scale": {"domain": [0, 1], "range": [138.5, 528.5], "nice": false, "zero": false},
              "axis": {"orient": "top", "grid": true, "labels": false, "title": null, "values": [0, 0.5, 1]}},
        "x2": {"datum": 1},
        "y": {"datum": -5000, "type": "quantitative", "scale": {"domain": [-5000, 5000], "range": [648, 489], "nice": false, "zero": false}, "axis": null},
        "y2": {"datum": 5000}
      }
    },
    {
      "data": {"name": "xiA"},
      "mark": {"type": "line", "color": "#0000ff", "strokeWidth": 3, "strokeJoin": "round"},
      "encoding": {
        "x": {"field": "t", "type": "quantitative", "scale": {"domain": [0, 1], "range": [138.5, 528.5], "nice": false, "zero": false},
              "axis": {"orient": "bottom", "offset": -511, "grid": false, "values": [0, 0.5, 1], "labelExpr": "'' + datum.value", "labelFontSize": 26, "title": "τ", "titleFontSize": 42, "titleX": 333.5, "titleY": 69, "titleAlign": "center"}},
        "y": {"field": "v", "type": "quantitative", "scale": {"domain": [-5000, 5000], "range": [648, 489], "nice": false, "zero": false},
              "axis": {"orient": "left", "offset": -138.5, "grid": true, "values": [-5000, 0, 5000], "labelExpr": "'' + datum.value", "labelFontSize": 26, "labelPadding": 9, "title": "ξ₁″", "titleFontSize": 44, "titleColor": "#666666", "titleX": -90, "titleY": 561, "titleAlign": "left"}}
      }
    },
    {
      "data": {"values": [{}]},
      "mark": {"type": "rule", "color": "black", "strokeWidth": 1.5},
      "encoding": {
        "x": {"datum": 0, "type": "quantitative", "scale": {"domain": [0, 1], "range": [138.5, 528.5], "nice": false, "zero": false}, "axis": null},
        "x2": {"datum": 1},
        "y": {"datum": 0, "type": "quantitative", "scale": {"domain": [-5000, 5000], "range": [648, 489], "nice": false, "zero": false}, "axis": null}
      }
    },
    {
      "data": {"values": [{"lab": "1", "t": -0.259, "v": 4400}]},
      "mark": {"type": "text", "align": "left", "baseline": "top", "font": "Liberation Sans", "fontSize": 30, "fontWeight": "bold", "color": "black", "clip": false},
      "encoding": {
        "x": {"field": "t", "type": "quantitative", "scale": {"domain": [0, 1], "range": [138.5, 528.5], "nice": false, "zero": false}, "axis": null},
        "y": {"field": "v", "type": "quantitative", "scale": {"domain": [-5000, 5000], "range": [648, 489], "nice": false, "zero": false}, "axis": null},
        "text": {"field": "lab"}
      }
    },

    {
      "data": {"values": [{}]},
      "mark": {"type": "rect", "fillOpacity": 0, "stroke": "black", "strokeWidth": 2},
      "encoding": {
        "x": {"datum": 0, "type": "quantitative", "scale": {"domain": [0, 1], "range": [652.5, 1042.5], "nice": false, "zero": false},
              "axis": {"orient": "top", "grid": true, "labels": false, "title": null, "values": [0, 0.5, 1]}},
        "x2": {"datum": 1},
        "y": {"datum": -5000, "type": "quantitative", "scale": {"domain": [-5000, 5000], "range": [648, 489], "nice": false, "zero": false}, "axis": null},
        "y2": {"datum": 5000}
      }
    },
    {
      "data": {"name": "xiB"},
      "mark": {"type": "line", "color": "#0000ff", "strokeWidth": 3, "strokeJoin": "round"},
      "encoding": {
        "x": {"field": "t", "type": "quantitative", "scale": {"domain": [0, 1], "range": [652.5, 1042.5], "nice": false, "zero": false},
              "axis": {"orient": "bottom", "offset": -511, "grid": false, "values": [0, 0.5, 1], "labelExpr": "'' + datum.value", "labelFontSize": 26, "title": "τ", "titleFontSize": 42, "titleX": 847.5, "titleY": 69, "titleAlign": "center"}},
        "y": {"field": "v", "type": "quantitative", "scale": {"domain": [-5000, 5000], "range": [648, 489], "nice": false, "zero": false},
              "axis": {"orient": "left", "offset": -652.5, "grid": true, "values": [-5000, 0, 5000], "labelExpr": "'' + datum.value", "labelFontSize": 26, "labelPadding": 9, "title": "ξ₁″", "titleFontSize": 44, "titleColor": "#666666", "titleX": -89, "titleY": 561, "titleAlign": "left"}}
      }
    },
    {
      "data": {"values": [{}]},
      "mark": {"type": "rule", "color": "black", "strokeWidth": 1.5},
      "encoding": {
        "x": {"datum": 0, "type": "quantitative", "scale": {"domain": [0, 1], "range": [652.5, 1042.5], "nice": false, "zero": false}, "axis": null},
        "x2": {"datum": 1},
        "y": {"datum": 0, "type": "quantitative", "scale": {"domain": [-5000, 5000], "range": [648, 489], "nice": false, "zero": false}, "axis": null}
      }
    },
    {
      "data": {"values": [{"lab": "2", "t": -0.255, "v": 4300}]},
      "mark": {"type": "text", "align": "left", "baseline": "top", "font": "Liberation Sans", "fontSize": 30, "fontWeight": "bold", "color": "black", "clip": false},
      "encoding": {
        "x": {"field": "t", "type": "quantitative", "scale": {"domain": [0, 1], "range": [652.5, 1042.5], "nice": false, "zero": false}, "axis": null},
        "y": {"field": "v", "type": "quantitative", "scale": {"domain": [-5000, 5000], "range": [648, 489], "nice": false, "zero": false}, "axis": null},
        "text": {"field": "lab"}
      }
    },

    {
      "data": {"values": [{}]},
      "mark": {"type": "rect", "fillOpacity": 0, "stroke": "black", "strokeWidth": 2},
      "encoding": {
        "x": {"datum": 0, "type": "quantitative", "scale": {"domain": [0, 1], "range": [1166, 1556], "nice": false, "zero": false},
              "axis": {"orient": "top", "grid": true, "labels": false, "title": null, "values": [0, 0.5, 1]}},
        "x2": {"datum": 1},
        "y": {"datum": -5000, "type": "quantitative", "scale": {"domain": [-5000, 5000], "range": [648, 489], "nice": false, "zero": false}, "axis": null},
        "y2": {"datum": 5000}
      }
    },
    {
      "data": {"name": "xiC"},
      "mark": {"type": "line", "color": "#0000ff", "strokeWidth": 3, "strokeJoin": "round"},
      "encoding": {
        "x": {"field": "t", "type": "quantitative", "scale": {"domain": [0, 1], "range": [1166, 1556], "nice": false, "zero": false},
              "axis": {"orient": "bottom", "offset": -511, "grid": false, "values": [0, 0.5, 1], "labelExpr": "'' + datum.value", "labelFontSize": 26, "title": "τ", "titleFontSize": 42, "titleX": 1361, "titleY": 69, "titleAlign": "center"}},
        "y": {"field": "v", "type": "quantitative", "scale": {"domain": [-5000, 5000], "range": [648, 489], "nice": false, "zero": false},
              "axis": {"orient": "left", "offset": -1166, "grid": true, "values": [-5000, 0, 5000], "labelExpr": "'' + datum.value", "labelFontSize": 26, "labelPadding": 9, "title": "ξ₂″", "titleFontSize": 44, "titleColor": "#666666", "titleX": -88, "titleY": 561, "titleAlign": "left"}}
      }
    },
    {
      "data": {"values": [{}]},
      "mark": {"type": "rule", "color": "black", "strokeWidth": 1.5},
      "encoding": {
        "x": {"datum": 0, "type": "quantitative", "scale": {"domain": [0, 1], "range": [1166, 1556], "nice": false, "zero": false}, "axis": null},
        "x2": {"datum": 1},
        "y": {"datum": 0, "type": "quantitative", "scale": {"domain": [-5000, 5000], "range": [648, 489], "nice": false, "zero": false}, "axis": null}
      }
    },
    {
      "data": {"values": [{"lab": "2", "t": -0.268, "v": 4400}]},
      "mark": {"type": "text", "align": "left", "baseline": "top", "font": "Liberation Sans", "fontSize": 30, "fontWeight": "bold", "color": "black", "clip": false},
      "encoding": {
        "x": {"field": "t", "type": "quantitative", "scale": {"domain": [0, 1], "range": [1166, 1556], "nice": false, "zero": false}, "axis": null},
        "y": {"field": "v", "type": "quantitative", "scale": {"domain": [-5000, 5000], "range": [648, 489], "nice": false, "zero": false}, "axis": null},
        "text": {"field": "lab"}
      }
    },

    {
      "data": {"values": [{}]},
      "mark": {"type": "rect", "fillOpacity": 0, "stroke": "black", "strokeWidth": 2},
      "encoding": {
        "x": {"datum": 0, "type": "quantitative", "scale": {"domain": [0, 1], "range": [1655, 2045], "nice": false, "zero": false},
              "axis": {"orient": "top", "grid": true, "labels": false, "title": null, "values": [0, 0.5, 1]}},
        "x2": {"datum": 1},
        "y": {"datum": -5000, "type": "quantitative", "scale": {"domain": [-5000, 5000], "range": [648, 489], "nice": false, "zero": false}, "axis": null},
        "y2": {"datum": 5000}
      }
    },
    {
      "data": {"name": "xiD"},
      "mark": {"type": "line", "color": "#0000ff", "strokeWidth": 3, "strokeJoin": "round"},
      "encoding": {
        "x": {"field": "t", "type": "quantitative", "scale": {"domain": [0, 1], "range": [1655, 2045], "nice": false, "zero": false},
              "axis": {"orient": "bottom", "offset": -511, "grid": false, "values": [0, 0.5, 1], "labelExpr": "'' + datum.value", "labelFontSize": 26, "title": "τ", "titleFontSize": 42, "titleX": 1850, "titleY": 69, "titleAlign": "center"}},
        "y": {"field": "v", "type": "quantitative", "scale": {"domain": [-5000, 5000], "range": [648, 489], "nice": false, "zero": false},
              "axis": {"orient": "left", "offset": -1655, "grid": true, "values": [-5000, 0, 5000], "labelExpr": "'' + datum.value", "labelFontSize": 26, "labelPadding": 9, "title": "ξ₂″", "titleFontSize": 44, "titleColor": "#666666", "titleX": -87, "titleY": 561, "titleAlign": "left"}}
      }
    },
    {
      "data": {"values": [{}]},
      "mark": {"type": "rule", "color": "black", "strokeWidth": 1.5},
      "encoding": {
        "x": {"datum": 0, "type": "quantitative", "scale": {"domain": [0, 1], "range": [1655, 2045], "nice": false, "zero": false}, "axis": null},
        "x2": {"datum": 1},
        "y": {"datum": 0, "type": "quantitative", "scale": {"domain": [-5000, 5000], "range": [648, 489], "nice": false, "zero": false}, "axis": null}
      }
    },
    {
      "data": {"values": [{"lab": "1", "t": -0.231, "v": 4400}]},
      "mark": {"type": "text", "align": "left", "baseline": "top", "font": "Liberation Sans", "fontSize": 30, "fontWeight": "bold", "color": "black", "clip": false},
      "encoding": {
        "x": {"field": "t", "type": "quantitative", "scale": {"domain": [0, 1], "range": [1655, 2045], "nice": false, "zero": false}, "axis": null},
        "y": {"field": "v", "type": "quantitative", "scale": {"domain": [-5000, 5000], "range": [648, 489], "nice": false, "zero": false}, "axis": null},
        "text": {"field": "lab"}
      }
    },

    {
      "data": {"values": [{}]},
      "mark": {"type": "rect", "fillOpacity": 0, "stroke": "black", "strokeWidth": 2},
      "encoding": {
        "x": {"datum": 10, "type": "quantitative", "scale": {"domain": [10, 40], "range": [128.5, 679.5], "nice": false, "zero": false},
              "axis": {"orient": "top", "grid": true, "labels": false, "title": null, "values": [10, 15, 20, 25, 30, 35, 40]}},
        "x2": {"datum": 40},
        "y": {"datum": -1.04, "type": "quantitative", "scale": {"domain": [-1.04, 1.025], "range": [1083, 757], "nice": false, "zero": false}, "axis": null},
        "y2": {"datum": 1.025}
      }
    },
    {
      "data": {"name": "pfcFrame"},
      "mark": {"type": "line", "strokeWidth": 3.5, "strokeJoin": "round", "strokeCap": "round", "clip": false},
      "encoding": {
        "x": {"field": "x", "type": "quantitative", "scale": {"domain": [10, 40], "range": [128.5, 679.5], "nice": false, "zero": false},
              "axis": {"orient": "bottom", "offset": -76, "grid": false, "values": [10, 15, 20, 25, 30, 35, 40], "labelExpr": "'' + datum.value", "title": "η", "titleFontSize": 44, "titleX": 404, "titleY": 61, "titleAlign": "center"}},
        "y": {"field": "y", "type": "quantitative", "scale": {"domain": [-1.04, 1.025], "range": [1083, 757], "nice": false, "zero": false},
              "axis": {"orient": "left", "offset": -128.5, "grid": true, "values": [-1, -0.75, -0.5, -0.25, 0, 0.25, 0.5, 0.75, 1], "labelExpr": "'' + datum.value", "title": "φₖ", "titleFontSize": 44, "titleX": -104.5, "titleY": 915, "titleAlign": "left"}},
        "color": {"field": "s", "type": "nominal",
                  "scale": {"domain": ["φ₀", "φ₁", "φ₂", "φ₃"], "range": ["#000000", "#ff0000", "#008000", "#0000ff"]},
                  "legend": {"title": null, "orient": "none", "legendX": 818.5, "legendY": 828, "symbolType": "M-1,0H1", "symbolSize": 5625, "symbolStrokeWidth": 3.5, "labelFont": "Liberation Serif", "labelFontStyle": "italic", "labelFontSize": 26, "labelColor": "#333333", "labelOffset": 8, "labelExpr": "datum.label + '\u00a0\u00a0\u00a0\u00a0\u00a0'", "rowPadding": 18, "clipHeight": 26, "padding": 13, "strokeColor": "black", "fillColor": "white"}},
        "detail": {"field": "g"},
        "order": {"value": null}
      }
    },
    {
      "data": {"values": [{"g": "a", "x": 20.26, "y": 0.513}, {"g": "a", "x": 25.7, "y": 1.524}, {"g": "b", "x": 20, "y": -0.487}, {"g": "b", "x": 42.5, "y": 1.524}]},
      "mark": {"type": "line", "color": "black", "strokeWidth": 1, "clip": false},
      "encoding": {
        "x": {"field": "x", "type": "quantitative", "scale": {"domain": [10, 40], "range": [128.5, 679.5], "nice": false, "zero": false}, "axis": null},
        "y": {"field": "y", "type": "quantitative", "scale": {"domain": [-1.04, 1.025], "range": [1083, 757], "nice": false, "zero": false}, "axis": null},
        "detail": {"field": "g"},
        "order": {"value": null}
      }
    },
    {
      "data": {"values": [{"t": "PFC", "x": 3.875, "y": 1.414}]},
      "mark": {"type": "text", "align": "left", "baseline": "top", "font": "Liberation Sans", "fontSize": 35, "color": "black", "clip": false},
      "encoding": {
        "x": {"field": "x", "type": "quantitative", "scale": {"domain": [10, 40], "range": [128.5, 679.5], "nice": false, "zero": false}, "axis": null},
        "y": {"field": "y", "type": "quantitative", "scale": {"domain": [-1.04, 1.025], "range": [1083, 757], "nice": false, "zero": false}, "axis": null},
        "text": {"field": "t"}
      }
    },
    {
      "data": {"values": [{"t": "*π", "x": 8.83, "y": 1.2465}]},
      "mark": {"type": "text", "align": "left", "baseline": "top", "font": "Liberation Serif", "fontStyle": "italic", "fontSize": 24, "color": "#777777", "clip": false},
      "encoding": {
        "x": {"field": "x", "type": "quantitative", "scale": {"domain": [10, 40], "range": [128.5, 679.5], "nice": false, "zero": false}, "axis": null},
        "y": {"field": "y", "type": "quantitative", "scale": {"domain": [-1.04, 1.025], "range": [1083, 757], "nice": false, "zero": false}, "axis": null},
        "text": {"field": "t"}
      }
    },

    {
      "data": {"values": [{}]},
      "mark": {"type": "rect", "fillOpacity": 0, "stroke": "black", "strokeWidth": 2},
      "encoding": {
        "x": {"datum": 10, "type": "quantitative", "scale": {"domain": [10, 40], "range": [1142.5, 1693.5], "nice": false, "zero": false},
              "axis": {"orient": "top", "grid": true, "labels": false, "title": null, "values": [10, 15, 20, 25, 30, 35, 40]}},
        "x2": {"datum": 40},
        "y": {"datum": -1.04, "type": "quantitative", "scale": {"domain": [-1.04, 1.025], "range": [1083, 757], "nice": false, "zero": false}, "axis": null},
        "y2": {"datum": 1.025}
      }
    },
    {
      "data": {"name": "pfcScreen"},
      "mark": {"type": "line", "strokeWidth": 3.5, "strokeJoin": "round", "strokeCap": "round", "clip": false},
      "encoding": {
        "x": {"field": "x", "type": "quantitative", "scale": {"domain": [10, 40], "range": [1142.5, 1693.5], "nice": false, "zero": false},
              "axis": {"orient": "bottom", "offset": -76, "grid": false, "values": [10, 15, 20, 25, 30, 35, 40], "labelExpr": "'' + datum.value", "title": "η", "titleFontSize": 44, "titleX": 1418, "titleY": 61, "titleAlign": "center"}},
        "y": {"field": "y", "type": "quantitative", "scale": {"domain": [-1.04, 1.025], "range": [1083, 757], "nice": false, "zero": false},
              "axis": {"orient": "left", "offset": -1142.5, "grid": true, "values": [-1, -0.75, -0.5, -0.25, 0, 0.25, 0.5, 0.75, 1], "labelExpr": "'' + datum.value", "title": "φₖ", "titleFontSize": 44, "titleX": -104.5, "titleY": 915, "titleAlign": "left"}},
        "color": {"field": "s", "type": "nominal",
                  "scale": {"domain": ["φ₀", "φ₁", "φ₂", "φ₃"], "range": ["#000000", "#ff0000", "#008000", "#0000ff"]},
                  "legend": {"title": null, "orient": "none", "legendX": 1819, "legendY": 827, "symbolType": "M-1,0H1", "symbolSize": 5625, "symbolStrokeWidth": 3.5, "labelFont": "Liberation Serif", "labelFontStyle": "italic", "labelFontSize": 26, "labelColor": "#333333", "labelOffset": 8, "labelExpr": "datum.label + '\u00a0\u00a0\u00a0\u00a0\u00a0'", "rowPadding": 18, "clipHeight": 26, "padding": 13, "strokeColor": "black", "fillColor": "white"}},
        "detail": {"field": "g"},
        "order": {"value": null}
      }
    },
    {
      "data": {"values": [{"g": "a", "x": 20, "y": 0.52}, {"g": "a", "x": 18.35, "y": 1.574}, {"g": "b", "x": 20.3, "y": -0.47}, {"g": "b", "x": 41.5, "y": 1.55}]},
      "mark": {"type": "line", "color": "black", "strokeWidth": 1, "clip": false},
      "encoding": {
        "x": {"field": "x", "type": "quantitative", "scale": {"domain": [10, 40], "range": [1142.5, 1693.5], "nice": false, "zero": false}, "axis": null},
        "y": {"field": "y", "type": "quantitative", "scale": {"domain": [-1.04, 1.025], "range": [1083, 757], "nice": false, "zero": false}, "axis": null},
        "detail": {"field": "g"},
        "order": {"value": null}
      }
    },
    {
      "data": {"values": [{"t": "*π", "x": 8.92, "y": 1.2465}]},
      "mark": {"type": "text", "align": "left", "baseline": "top", "font": "Liberation Serif", "fontStyle": "italic", "fontSize": 24, "color": "#777777", "clip": false},
      "encoding": {
        "x": {"field": "x", "type": "quantitative", "scale": {"domain": [10, 40], "range": [1142.5, 1693.5], "nice": false, "zero": false}, "axis": null},
        "y": {"field": "y", "type": "quantitative", "scale": {"domain": [-1.04, 1.025], "range": [1083, 757], "nice": false, "zero": false}, "axis": null},
        "text": {"field": "t"}
      }
    }
  ]
}
